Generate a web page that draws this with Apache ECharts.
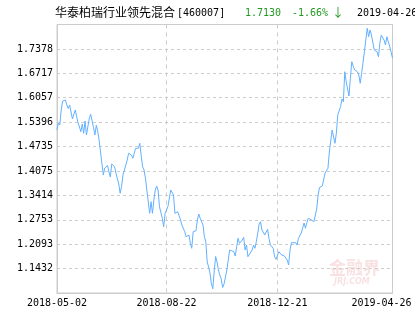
<!DOCTYPE html>
<html>
<head>
<meta charset="utf-8">
<script src="https://cdn.jsdelivr.net/npm/echarts@6/dist/echarts.min.js"></script>
<style>
  html, body { margin: 0; padding: 0; background: #fff; }
  #chart { width: 415px; height: 330px; }
</style>
</head>
<body>
<div id="chart"></div>
<script>
// 基金信息
const fundName = '华泰柏瑞行业领先混合'
const fundCode = '[460007]'
const lastNav = '1.7130'
const lastChange = '-1.66%'
const lastArrow = '↓'
const lastDate = '2019-04-26'

// x 轴：交易日序号 + 显示的日期
const xLabelDays = [0, 78, 157, 239]
const xLabels = ['2018-05-02', '2018-08-22', '2018-12-21', '2019-04-26']

// y 轴刻度
const yTicks = [1.1432, 1.2093, 1.2753, 1.3414, 1.4075, 1.4735, 1.5396, 1.6057, 1.6717, 1.7378]
const yMin = 1.07713
const yMax = 1.80387
const yStep = 0.066067

// 单位净值 (交易日序号, 净值)
const tradeDays = [0, 1, 2, 3, 4, 5, 6, 7, 8, 9, 10, 11, 12, 13, 14, 15, 16, 17, 18, 19,
    20, 21, 23, 24, 26, 27, 28, 29, 30, 31, 33, 34, 35, 36, 37, 38, 39, 41, 42, 43,
    44, 45, 46, 47, 48, 50, 51, 52, 53, 54, 56, 57, 58, 59, 60, 61, 62, 63, 64, 66,
    67, 68, 69, 70, 71, 72, 73, 75, 76, 77, 78, 79, 80, 81, 82, 83, 84, 85, 86, 88,
    89, 90, 91, 92, 94, 95, 96, 97, 98, 99, 100, 101, 102, 104, 105, 106, 107, 108, 109, 110,
    111, 112, 113, 114, 115, 116, 117, 118, 119, 121, 122, 123, 124, 126, 127, 128, 129, 130, 132, 133,
    134, 135, 136, 137, 139, 140, 141, 142, 143, 144, 145, 146, 148, 149, 150, 151, 152, 154, 155, 156,
    157, 158, 159, 160, 161, 162, 164, 165, 166, 167, 168, 170, 171, 172, 173, 174, 176, 177, 178, 179,
    180, 181, 183, 184, 185, 186, 187, 189, 190, 191, 192, 193, 194, 196, 197, 198, 199, 200, 202, 203,
    204, 205, 206, 208, 209, 210, 211, 212, 214, 215, 216, 217, 218, 219, 221, 222, 223, 224, 225, 226,
    228, 229, 230, 231, 232, 233, 234, 235, 236, 237, 238, 239]
const nav = [1.5183, 1.5373, 1.5318, 1.5724, 1.5968, 1.5950, 1.5995, 1.5860, 1.5765, 1.5860,
    1.5806, 1.5481, 1.5535, 1.5724, 1.5738, 1.5373, 1.5264, 1.5137, 1.5345, 1.5094,
    1.5427, 1.5048, 1.5500, 1.5608, 1.5251, 1.5048, 1.5310, 1.5156, 1.4912, 1.4588,
    1.3965, 1.4155, 1.4190, 1.4222, 1.4046, 1.3911, 1.4263, 1.4190, 1.4011, 1.3965,
    1.3722, 1.3470, 1.3648, 1.3965, 1.4011, 1.4371, 1.4552, 1.4596, 1.4506, 1.4417,
    1.4688, 1.4715, 1.4688, 1.4823, 1.4479, 1.4190, 1.4100, 1.3884, 1.3559, 1.2928,
    1.3242, 1.2928, 1.3288, 1.3559, 1.3667, 1.3559, 1.3107, 1.2793, 1.2566, 1.2928,
    1.2972, 1.3107, 1.3091, 1.3559, 1.3578, 1.3424, 1.2928, 1.2882, 1.2972, 1.2747,
    1.2612, 1.2658, 1.2430, 1.2295, 1.2341, 1.2116, 1.1981, 1.2430, 1.2476, 1.2457,
    1.2747, 1.2910, 1.2793, 1.2612, 1.2295, 1.2160, 1.1610, 1.1475, 1.1304, 1.1015,
    1.0885, 1.1367, 1.1759, 1.1610, 1.1394, 1.1258, 1.1150, 1.0920, 1.1015, 1.1394,
    1.1664, 1.1935, 1.1954, 1.1889, 1.1773, 1.2024, 1.2252, 1.2116, 1.2206, 1.2279,
    1.1935, 1.2070, 1.1754, 1.1710, 1.1935, 1.2070, 1.1981, 1.2160, 1.2387, 1.2639,
    1.2701, 1.2476, 1.2341, 1.2387, 1.2495, 1.2252, 1.2070, 1.1981, 1.1754, 1.1683,
    1.1710, 1.1889, 1.1935, 1.1800, 1.1773, 1.1773, 1.1664, 1.1529, 1.1935, 1.2133,
    1.2116, 1.2133, 1.2070, 1.2252, 1.2306, 1.2395, 1.2666, 1.2522, 1.2679, 1.2793,
    1.2788, 1.2755, 1.2701, 1.2674, 1.3045, 1.3424, 1.3627, 1.3667, 1.3627, 1.4019,
    1.4073, 1.4146, 1.4588, 1.5183, 1.5137, 1.4823, 1.5094, 1.5589, 1.5814, 1.6022,
    1.5949, 1.6761, 1.6490, 1.6103, 1.6582, 1.7032, 1.6915, 1.6807, 1.6761, 1.6672,
    1.6447, 1.6718, 1.6718, 1.7302, 1.7936, 1.7708, 1.7890, 1.7754, 1.7800, 1.7348,
    1.7302, 1.7167, 1.7530, 1.7754, 1.7754, 1.7619, 1.7484, 1.7708, 1.7573, 1.7450,
    1.7419, 1.7130]

const monoFont = 'DejaVu Sans Mono'
const cjkFont = 'Noto Sans CJK SC'

const chart = echarts.init(document.getElementById('chart'), null, { renderer: 'canvas' })

chart.setOption({
    animation: false,
    grid: {
        left: 57,
        right: 22.5,
        top: 24.5,
        bottom: 37,
        show: true,
        borderColor: '#ccc',
        borderWidth: 1
    },
    xAxis: {
        type: 'value',
        min: 0,
        max: 239,
        axisLine: { show: true, lineStyle: { color: '#ccc' } },
        axisTick: { show: false, customValues: xLabelDays },
        splitLine: { show: true, lineStyle: { color: '#ccc', type: [4, 4] } },
        axisLabel: {
            customValues: xLabelDays,
            margin: 5,
            color: '#000',
            fontFamily: monoFont,
            fontSize: 10,
            formatter: (v) => {
                const i = xLabelDays.indexOf(v)
                if (i < 0) return ''
                // 最后一个日期往左挪一点
                return i === xLabels.length - 1 ? '{r|' + xLabels[i] + '}' : xLabels[i]
            },
            rich: {
                r: { padding: [0, 22, 0, 0], color: '#000', fontFamily: monoFont, fontSize: 10 }
            }
        }
    },
    yAxis: {
        type: 'value',
        min: yMin,
        max: yMax,
        interval: yStep,
        axisLine: { show: true, lineStyle: { color: '#ccc' } },
        axisTick: { show: false, customValues: yTicks },
        splitLine: { show: true, lineStyle: { color: '#ccc', type: [3, 3] } },
        axisLabel: {
            customValues: yTicks,
            margin: 4,
            color: '#000',
            fontFamily: monoFont,
            fontSize: 10,
            formatter: (v) => v.toFixed(4)
        }
    },
    graphic: [
        { type: 'text', left: 55, top: 6, style: { text: fundName, fill: '#000', font: '12px "' + cjkFont + '"' } },
        { type: 'text', left: 177, top: 8, style: { text: fundCode, fill: '#000', font: '10px "' + monoFont + '"' } },
        { type: 'text', left: 245, top: 8, style: { text: lastNav, fill: '#229922', font: '10px "' + monoFont + '"' } },
        { type: 'text', left: 292, top: 8, style: { text: lastChange, fill: '#229922', font: '10px "' + monoFont + '"' } },
        { type: 'text', left: 332, top: 6, style: { text: lastArrow, fill: '#229922', font: '12px "' + cjkFont + '"' } },
        { type: 'text', left: 357, top: 8, style: { text: lastDate, fill: '#000', font: '10px "' + monoFont + '"' } },
        // 水印
        { type: 'text', left: 329, top: 259, z: -1, style: { text: '金融界', fill: 'rgba(220,90,90,0.18)', font: 'bold 17px "' + cjkFont + '"' } },
        { type: 'text', left: 334, top: 278, z: -1, style: { text: 'JRJ.COM', fill: 'rgba(220,90,90,0.18)', font: 'italic bold 8px "DejaVu Sans"' } }
    ],
    series: [{
        type: 'line',
        data: tradeDays.map((d, i) => [d, nav[i]]),
        showSymbol: false,
        lineStyle: { color: '#62b0ff', width: 1 },
        itemStyle: { color: '#62b0ff' }
    }]
})
</script>
</body>
</html>
